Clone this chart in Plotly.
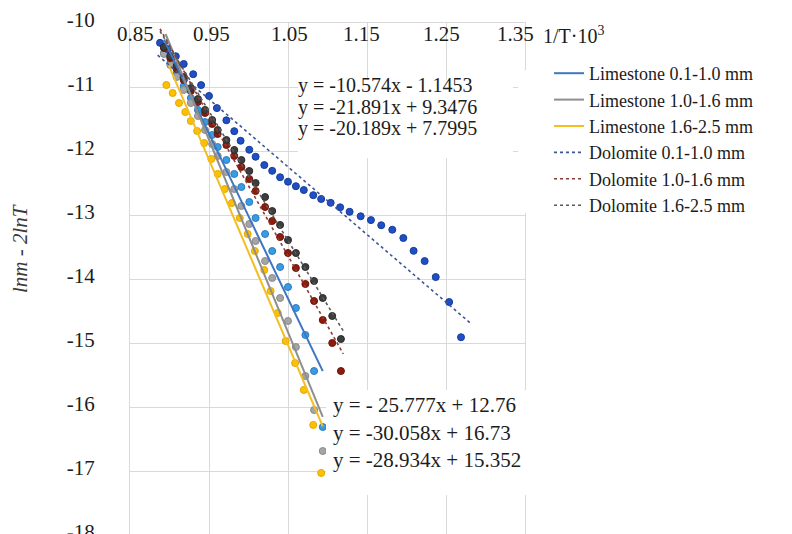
import plotly.graph_objects as go

# ---------------- data ----------------
series_names = ["Limestone 0.1-1.0 mm", "Limestone 1.0-1.6 mm", "Limestone 1.6-2.5 mm",
                "Dolomite 0.1-1.0 mm", "Dolomite 1.0-1.6 mm", "Dolomite 1.6-2.5 mm"]

lim01_x = [0.893, 0.901, 0.909, 0.918, 0.927, 0.936, 0.945, 0.954, 0.961, 0.972, 0.982,
           0.991, 1.001, 1.009, 1.021, 1.030, 1.040, 1.050, 1.060, 1.072, 1.083, 1.094]
lim01_y = [-10.469, -10.625, -10.797, -10.984, -11.172, -11.359, -11.547, -11.75, -11.938,
           -12.141, -12.359, -12.563, -12.797, -13.047, -13.297, -13.563, -13.813, -14.125,
           -14.453, -14.875, -15.438, -16.313]

lim10_x = [0.893, 0.901, 0.909, 0.918, 0.927, 0.936, 0.945, 0.954, 0.961, 0.972, 0.982,
           0.991, 1.001, 1.009, 1.021, 1.030, 1.040, 1.050, 1.060, 1.072, 1.083, 1.094]
lim10_y = [-10.484, -10.656, -10.844, -11.047, -11.25, -11.453, -11.672, -11.891, -12.078,
           -12.328, -12.594, -12.859, -13.141, -13.406, -13.719, -13.984, -14.297, -14.656,
           -15.063, -15.516, -16.047, -16.688]

lim16_x = [0.896, 0.904, 0.912, 0.920, 0.927, 0.935, 0.944, 0.953, 0.961, 0.970, 0.979,
           0.989, 0.999, 1.008, 1.020, 1.028, 1.037, 1.047, 1.059, 1.070, 1.082, 1.092]
lim16_y = [-10.969, -11.094, -11.25, -11.391, -11.531, -11.688, -11.875, -12.125, -12.359,
           -12.594, -12.813, -13.047, -13.297, -13.563, -13.859, -14.188, -14.531, -14.969,
           -15.313, -15.734, -16.281, -17.031]

dol01_x = [0.888, 0.898, 0.908, 0.918, 0.930, 0.940, 0.950, 0.960, 0.972, 0.982, 0.990,
           1.001, 1.009, 1.020, 1.030, 1.040, 1.050, 1.060, 1.070, 1.082, 1.092, 1.104,
           1.116, 1.128, 1.142, 1.155, 1.168, 1.182, 1.196, 1.209, 1.223, 1.237, 1.254, 1.269]
dol01_y = [-10.31, -10.41, -10.52, -10.64, -10.80, -10.97, -11.14, -11.33, -11.52, -11.69,
           -11.84, -11.98, -12.09, -12.22, -12.31, -12.41, -12.48, -12.55, -12.61, -12.69,
           -12.75, -12.81, -12.88, -12.95, -13.02, -13.08, -13.16, -13.23, -13.36, -13.56,
           -13.72, -13.97, -14.36, -14.91]

dol10_x = [0.893, 0.901, 0.909, 0.918, 0.927, 0.936, 0.945, 0.954, 0.961, 0.972, 0.982, 0.991,
           1.001, 1.009, 1.021, 1.030, 1.040, 1.050, 1.060, 1.072, 1.083, 1.094, 1.106, 1.117]
dol10_y = [-10.391, -10.547, -10.719, -10.891, -11.063, -11.234, -11.406, -11.578, -11.734,
           -11.906, -12.078, -12.25, -12.438, -12.625, -12.875, -13.094, -13.344, -13.594,
           -13.828, -14.078, -14.344, -14.641, -15.0, -15.438]

dol16_x = [0.893, 0.901, 0.909, 0.918, 0.927, 0.936, 0.945, 0.954, 0.961, 0.972, 0.982, 0.991,
           1.001, 1.009, 1.021, 1.030, 1.040, 1.050, 1.060, 1.072, 1.083, 1.094, 1.106, 1.117]
dol16_y = [-10.375, -10.516, -10.672, -10.844, -11.016, -11.188, -11.359, -11.516, -11.672,
           -11.828, -11.984, -12.141, -12.313, -12.5, -12.719, -12.938, -13.156, -13.391,
           -13.594, -13.813, -14.031, -14.297, -14.578, -14.938]

# linear trendlines (slope, intercept from the printed equations) and their x extent
trend_slopes = [-25.777, -30.058, -28.934, -10.574, -21.891, -20.189]
trend_intercepts = [12.76, 16.73, 15.352, -1.1453, 9.3476, 7.7995]
trend_x_start = [0.893, 0.895, 0.898, 0.885, 0.888, 0.888]
trend_x_end = [1.094, 1.094, 1.094, 1.282, 1.120, 1.120]

equations_top = ["y = -10.574x - 1.1453", "y = -21.891x + 9.3476", "y = -20.189x + 7.7995"]
equations_bottom = ["y = - 25.777x + 12.76", "y = -30.058x + 16.73", "y = -28.934x + 15.352"]

x_tick_vals = [0.85, 0.95, 1.05, 1.15, 1.25, 1.35]
x_tick_text = ["0.85", "0.95", "1.05", "1.15", "1.25", "1.35"]
y_tick_vals = [-10, -11, -12, -13, -14, -15, -16, -17, -18]
y_tick_text = ["-10", "-11", "-12", "-13", "-14", "-15", "-16", "-17", "-18"]

# ---------------- styling ----------------
FONT = "Liberation Serif, Times New Roman, serif"
TXT = "#1c1c1c"
marker_colors = ["#3A9BE0", "#A5A5A5", "#FFC000", "#1F4FC6", "#8E1C0C", "#3E3E3E"]
marker_edges = ["#2A7CC0", "#8A8A8A", "#E0A800", "#173C9A", "#6E1408", "#2A2A2A"]
line_colors = ["#3F76BF", "#8E8E8E", "#F2BE22", "#3E5596", "#8C3B35", "#5A5A5A"]
line_dash = ["solid", "solid", "solid", "dot", "dot", "dot"]
line_width = [2, 2, 2, 1.6, 1.6, 1.6]

xs = [lim01_x, lim10_x, lim16_x, dol01_x, dol10_x, dol16_x]
ys = [lim01_y, lim10_y, lim16_y, dol01_y, dol10_y, dol16_y]

W, H = 792, 534
L, R, T, B = 122, 517, 15, 527


def px(xp):
    return (xp - L) / (R - L)


def py(yp):
    return (B - yp) / (B - T)


fig = go.Figure()

for i in range(6):
    fig.add_trace(go.Scatter(
        x=xs[i], y=ys[i], mode="markers", showlegend=False, hoverinfo="skip",
        marker=dict(size=7, color=marker_colors[i],
                    line=dict(width=1, color=marker_edges[i]))))

for i in range(6):
    tx = [trend_x_start[i], trend_x_end[i]]
    ty = [trend_slopes[i] * v + trend_intercepts[i] for v in tx]
    fig.add_trace(go.Scatter(
        x=tx, y=ty, mode="lines", name=series_names[i],
        line=dict(color=line_colors[i], width=line_width[i], dash=line_dash[i])))

grid = "#D9D9D9"
fig.update_layout(
    width=W, height=H,
    margin=dict(l=L, r=W - R, t=T, b=H - B, pad=0, autoexpand=False),
    paper_bgcolor="white", plot_bgcolor="white",
    font=dict(family=FONT, size=21, color=TXT),
    xaxis=dict(range=[0.85, 1.35], side="top", tickvals=x_tick_vals,
               showticklabels=False,
               showgrid=True, gridcolor=grid, gridwidth=1, zeroline=False,
               showline=True, linecolor=grid, linewidth=1, mirror=True, ticks="",
               automargin=False),
    yaxis=dict(range=[-18, -10], tickvals=y_tick_vals, ticktext=y_tick_text,
               showgrid=True, gridcolor=grid, gridwidth=1, zeroline=False,
               showline=True, linecolor=grid, linewidth=1, mirror=True, ticks="",
               ticklabelstandoff=30, ticklabelshift=-3, ticklabeloverflow="allow",
               automargin=False,
               tickfont=dict(family=FONT, size=21, color=TXT)),
    legend=dict(x=px(541), y=py(47), xanchor="left", yanchor="top",
                font=dict(family=FONT, size=18, color=TXT),
                bgcolor="rgba(0,0,0,0)", borderwidth=0, traceorder="normal",
                itemwidth=30, tracegroupgap=0),
    showlegend=True,
)

# white boxes behind the equation labels and the legend
for (x0, y0, x1, y1) in [(290, 72, 505, 150), (318, 382, 548, 487), (510, 62, 792, 205)]:
    fig.add_shape(type="rect", xref="paper", yref="paper",
                  x0=px(x0), x1=px(x1), y0=py(y1), y1=py(y0),
                  fillcolor="white", line=dict(width=0), layer="above")

# x tick labels drawn just below the top axis line, inside the plot
x_label_shift = [5, 2, 1, -6, -5, -10]
for v, t, s in zip(x_tick_vals, x_tick_text, x_label_shift):
    fig.add_annotation(text=t, xref="x", yref="paper", x=v, y=py(26), xshift=s,
                       xanchor="center", yanchor="middle", showarrow=False,
                       font=dict(family=FONT, size=21, color=TXT))

for txt, yc in zip(equations_top, [77, 99, 120]):
    fig.add_annotation(text=txt, xref="paper", yref="paper", x=px(288), y=py(yc),
                       xanchor="left", yanchor="middle", showarrow=False,
                       font=dict(family=FONT, size=20, color=TXT))
for txt, yc in zip(equations_bottom, [397, 425, 452]):
    fig.add_annotation(text=txt, xref="paper", yref="paper", x=px(323), y=py(yc),
                       xanchor="left", yanchor="middle", showarrow=False,
                       font=dict(family=FONT, size=21, color=TXT))

fig.add_annotation(text="<i>lnm - 2lnT</i>", xref="paper", yref="paper",
                   x=px(12), y=py(241), xanchor="center", yanchor="middle",
                   textangle=-90, showarrow=False,
                   font=dict(family=FONT, size=21, color="#3a3a3a"))
fig.add_annotation(text="1/T·10<sup>3</sup>", xref="paper", yref="paper",
                   x=px(533), y=py(27), xanchor="left", yanchor="middle",
                   showarrow=False, font=dict(family=FONT, size=20, color=TXT))

fig.write_html("out.html")
